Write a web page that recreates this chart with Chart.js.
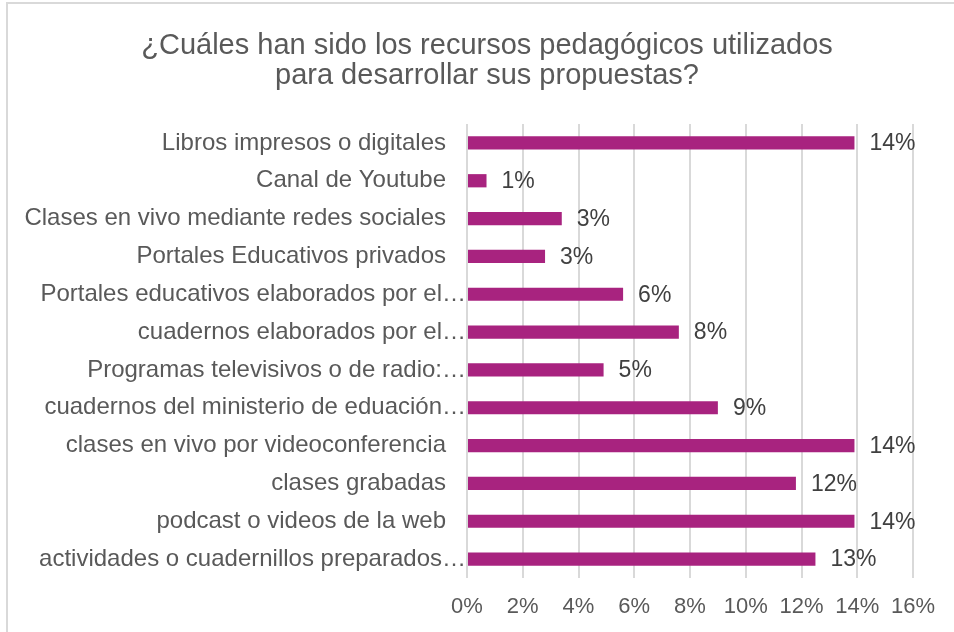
<!DOCTYPE html>
<html lang="es">
<head>
  <meta charset="UTF-8" />
  <title>Recursos pedagógicos</title>
  <script src="https://cdn.jsdelivr.net/npm/chart.js"></script>
  <style>
    html, body { margin: 0; padding: 0; background: #fff; overflow: hidden; }
    #frame {
      position: absolute; left: 6px; top: 2px; width: 1000px; height: 700px;
      border-left: 2px solid #d9d9d9; border-top: 2px solid #d9d9d9;
    }
    #wrap { position: absolute; left: 0; top: 0; width: 954px; height: 632px; }
  </style>
</head>
<body>
  <div id="frame"></div>
  <div id="wrap"><canvas id="chart" width="954" height="632"></canvas></div>

  <script>
    // categorias (de arriba hacia abajo, tal como aparecen)
    const categories = [
      'Libros impresos o digitales   ',
      'Canal de Youtube   ',
      'Clases en vivo mediante redes sociales   ',
      'Portales Educativos privados   ',
      'Portales educativos elaborados por el…',
      'cuadernos elaborados por el…',
      'Programas televisivos o de radio:…',
      'cuadernos del ministerio de eduación…',
      'clases en vivo por videoconferencia   ',
      'clases grabadas   ',
      'podcast o videos de la web   ',
      'actividades o cuadernillos preparados…'
    ];

    // porcentajes
    const values = [13.9, 0.7, 3.4, 2.8, 5.6, 7.6, 4.9, 9.0, 13.9, 11.8, 13.9, 12.5];

    const xTicks = [0, 2, 4, 6, 8, 10, 12, 14, 16];

    const titleLines = [
      '¿Cuáles han sido los recursos pedagógicos utilizados',
      'para desarrollar sus propuestas?'
    ];

    const FONT = '"Liberation Sans", Arial, sans-serif';

    // titulo centrado sobre todo el recuadro (no solo sobre el area del grafico)
    const titleText = {
      id: 'titleText',
      afterDraw(chart) {
        const ctx = chart.ctx;
        ctx.save();
        ctx.font = '29px ' + FONT;
        ctx.fillStyle = '#595959';
        ctx.textAlign = 'center';
        ctx.textBaseline = 'middle';
        titleLines.forEach((t, i) => ctx.fillText(t, 487, 46 + i * 30));
        ctx.restore();
      }
    };

    // etiquetas de valor al final de cada barra
    const barLabels = {
      id: 'barLabels',
      afterDatasetsDraw(chart) {
        const ctx = chart.ctx;
        const meta = chart.getDatasetMeta(0);
        ctx.save();
        ctx.font = '23px ' + FONT;
        ctx.fillStyle = '#404040';
        ctx.textAlign = 'left';
        ctx.textBaseline = 'middle';
        meta.data.forEach((bar, i) => {
          ctx.fillText(Math.round(values[i]) + '%', bar.x + 15, bar.y + 1);
        });
        ctx.restore();
      }
    };

    new Chart(document.getElementById('chart'), {
      type: 'bar',
      data: {
        labels: categories,
        datasets: [{
          data: values,
          backgroundColor: '#A8237F',
          barPercentage: 0.35,
          categoryPercentage: 1
        }]
      },
      options: {
        indexAxis: 'y',
        responsive: false,
        animation: false,
        layout: { padding: { top: 124, left: 0, right: 41, bottom: 0 } },
        plugins: {
          legend: { display: false },
          tooltip: { enabled: false },
          title: { display: false }
        },
        scales: {
          x: {
            min: 0,
            max: 16,
            afterBuildTicks(scale) { scale.ticks = xTicks.map(v => ({ value: v })); },
            afterFit(scale) { scale.height = 54; },
            grid: { color: '#d9d9d9', lineWidth: 2, drawTicks: false },
            border: { display: false },
            ticks: {
              padding: 16,
              color: '#595959',
              font: { family: FONT, size: 22 },
              callback: v => v + '%'
            }
          },
          y: {
            afterFit(scale) { scale.width = 467; },
            grid: { display: false, drawTicks: false },
            border: { display: false },
            ticks: {
              padding: 1,
              color: '#595959',
              font: { family: FONT, size: 24 }
            }
          }
        }
      },
      plugins: [barLabels, titleText]
    });
  </script>
</body>
</html>
